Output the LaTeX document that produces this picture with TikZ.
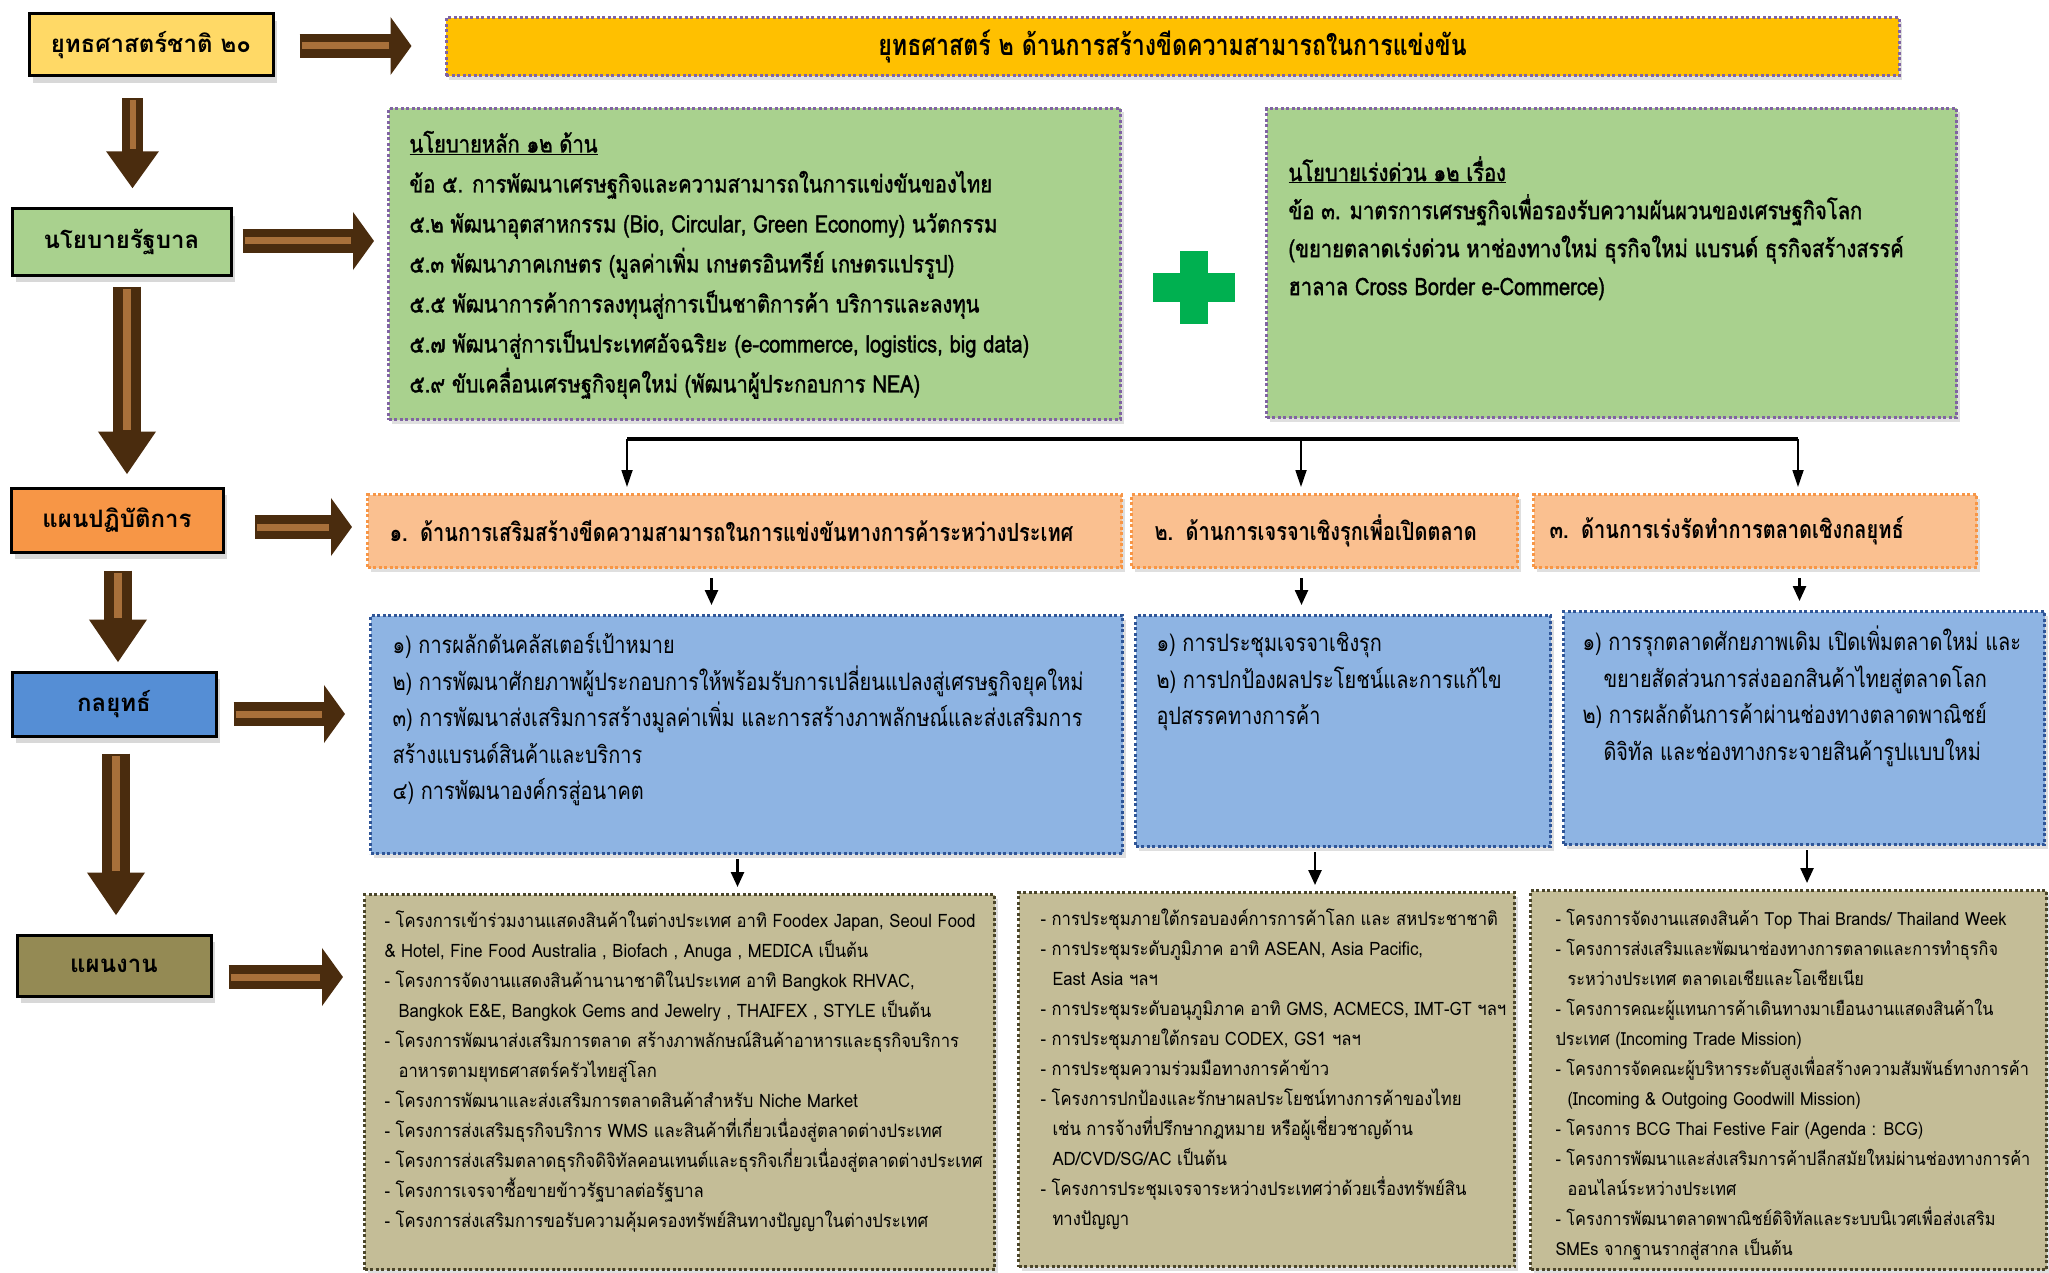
\documentclass[tikz,border=0pt]{standalone}
\usepackage{fontspec}
\newfontfamily\thaifont[Script=Thai]{Loma}
\newfontfamily\thainarrow[Script=Thai,FakeStretch=0.8]{Loma}
\newfontfamily\thaimed[Script=Thai,FakeStretch=0.84,FakeBold=1.5]{Loma}
\newfontfamily\thaiblue[Script=Thai,FakeStretch=0.83]{Loma}
\newfontfamily\thaithin[Script=Thai,FakeStretch=0.9]{Loma}
\usetikzlibrary{arrows.meta,shadows,calc,positioning}

\definecolor{yel}{HTML}{FFD966}
\definecolor{gold}{HTML}{FFC000}
\definecolor{grn}{HTML}{A9D18E}
\definecolor{org}{HTML}{F79646}
\definecolor{orgL}{HTML}{FAC090}
\definecolor{blu}{HTML}{558ED5}
\definecolor{bluL}{HTML}{8EB4E3}
\definecolor{bluD}{HTML}{2F5597}
\definecolor{olv}{HTML}{948A54}
\definecolor{olvL}{HTML}{C4BD97}
\definecolor{olvD}{HTML}{4A452A}
\definecolor{purp}{HTML}{8064A2}
\definecolor{plusgrn}{HTML}{00B050}
\definecolor{brD}{RGB}{74,44,14}
\definecolor{brL}{RGB}{168,112,58}

% top aligned text inside a box: height, width, left pad, top gap, text
\newcommand{\boxtext}[5]{\parbox[t][#1][t]{#2}{\leftskip=#3\relax\vspace*{#4}\strut#5}}

\begin{document}
\begin{tikzpicture}
  [x=1pt, y=-1pt,
   lbl/.style={draw=black, line width=3pt, inner sep=0pt,
     font=\thaifont\bfseries\fontsize{24pt}{28pt}\selectfont,
     drop shadow={shadow xshift=4pt, shadow yshift=-7pt, opacity=0.3}},
   dashbox/.style={line width=3pt, dash pattern=on 3pt off 2.5pt, inner sep=0pt,
     drop shadow={shadow xshift=3pt, shadow yshift=-4pt, opacity=0.25}},
   grnbox/.style={dashbox, draw=purp, fill=grn, anchor=north west,
     font=\thaimed\fontsize{24pt}{40pt}\selectfont},
   orgbox/.style={dashbox, draw=org, fill=orgL, anchor=north west, minimum height=73pt,
     align=left, font=\thainarrow\bfseries\fontsize{25pt}{28pt}\selectfont},
   blubox/.style={dashbox, draw=bluD, fill=bluL, anchor=north west,
     font=\thaiblue\fontsize{24pt}{36.5pt}\selectfont},
   olvbox/.style={dashbox, draw=olvD, fill=olvL, anchor=north west,
     font=\thaithin\fontsize{18.5pt}{30pt}\selectfont},
   harrow/.style={draw=brD, line width=24pt, -{Triangle[length=21pt,width=57pt]},
     postaction={draw=brL, line width=7pt, arrows=-, shorten >=23pt, shorten <=2pt}},
   varrow/.style={draw=brD, line width=21pt, -{Triangle[length=37pt,width=50pt]},
     postaction={draw=brL, line width=6pt, arrows=-, shorten >=39pt, shorten <=2pt}},
   varrowL/.style={draw=brD, line width=28pt, -{Triangle[length=43pt,width=55pt]},
     postaction={draw=brL, line width=8pt, arrows=-, shorten >=45pt, shorten <=2pt}},
   thinarrow/.style={draw=black, line width=1.8pt, -{Triangle[length=17pt,width=11pt]}},
   thickarrow/.style={draw=black, line width=2.5pt, -{Triangle[length=15pt,width=13pt]}}]

  \useasboundingbox (0,0) rectangle (2049,1273);
  \fill[white] (0,0) rectangle (2049,1273);

  % left column
  \node[lbl, fill=yel, minimum width=244pt, minimum height=62pt] (s20) at (151,45) {ยุทธศาสตร์ชาติ ๒๐};
  \node[lbl, fill=grn, minimum width=219pt, minimum height=66pt] (gov) at (121.5,242) {นโยบายรัฐบาล};
  \node[lbl, fill=org, minimum width=212pt, minimum height=64pt] (ops) at (117,520) {แผนปฏิบัติการ};
  \node[lbl, fill=blu, minimum width=204pt, minimum height=64pt] (strat) at (114,704) {กลยุทธ์};
  \node[lbl, fill=olv, minimum width=194pt, minimum height=61pt] (plan) at (114,965.5) {แผนงาน};

  % banner
  \node[dashbox, draw=purp, fill=gold, minimum width=1453pt, minimum height=58pt,
    font=\thainarrow\bfseries\fontsize{29pt}{32pt}\selectfont] (ban) at (1172.5,47)
    {ยุทธศาสตร์ ๒ ด้านการสร้างขีดความสามารถในการแข่งขัน};

  % policy boxes
  \node[grnbox] (pol) at (387,107) {\boxtext{311pt}{732pt}{21pt}{16pt}{%
    \underline{นโยบายหลัก ๑๒ ด้าน}\\
    ข้อ ๕. การพัฒนาเศรษฐกิจและความสามารถในการแข่งขันของไทย\\
    ๕.๒ พัฒนาอุตสาหกรรม (Bio, Circular, Green Economy) นวัตกรรม\\
    ๕.๓ พัฒนาภาคเกษตร (มูลค่าเพิ่ม เกษตรอินทรีย์ เกษตรแปรรูป)\\
    ๕.๕ พัฒนาการค้าการลงทุนสู่การเป็นชาติการค้า บริการและลงทุน\\
    ๕.๗ พัฒนาสู่การเป็นประเทศอัจฉริยะ (e-commerce, logistics, big data)\\
    ๕.๙ ขับเคลื่อนเศรษฐกิจยุคใหม่ (พัฒนาผู้ประกอบการ NEA)}};
  \node[grnbox, font=\thaimed\fontsize{24pt}{38pt}\selectfont] (urg) at (1265,107) {\boxtext{309pt}{690pt}{22pt}{46pt}{%
    \underline{นโยบายเร่งด่วน ๑๒ เรื่อง}\\
    ข้อ ๓. มาตรการเศรษฐกิจเพื่อรองรับความผันผวนของเศรษฐกิจโลก\\
    (ขยายตลาดเร่งด่วน หาช่องทางใหม่ ธุรกิจใหม่ แบรนด์ ธุรกิจสร้างสรรค์\\
    ฮาลาล Cross Border e-Commerce)}};
  \fill[plusgrn] (1153,273) rectangle (1235,302);
  \fill[plusgrn] (1180,251) rectangle (1208,324);

  % action plan boxes
  \node[orgbox, minimum width=754pt, text width=710pt, inner xsep=22pt] (or1) at (366,493)
    {๑. ด้านการเสริมสร้างขีดความสามารถในการแข่งขันทางการค้าระหว่างประเทศ};
  \node[orgbox, minimum width=386pt, text width=340pt, inner xsep=23pt] (or2) at (1130,493)
    {๒. ด้านการเจรจาเชิงรุกเพื่อเปิดตลาด};
  \node[orgbox, minimum width=443pt, text width=411pt, inner xsep=16pt] (or3) at (1532,493)
    {๓. ด้านการเร่งรัดทำการตลาดเชิงกลยุทธ์};

  % strategy boxes
  \node[blubox] (bl1) at (369,614) {\boxtext{238pt}{752pt}{22pt}{12.5pt}{%
    ๑) การผลักดันคลัสเตอร์เป้าหมาย\\
    ๒) การพัฒนาศักยภาพผู้ประกอบการให้พร้อมรับการเปลี่ยนแปลงสู่เศรษฐกิจยุคใหม่\\
    ๓) การพัฒนาส่งเสริมการสร้างมูลค่าเพิ่ม และการสร้างภาพลักษณ์และส่งเสริมการ\\
    สร้างแบรนด์สินค้าและบริการ\\
    ๔) การพัฒนาองค์กรสู่อนาคต}};
  \node[blubox] (bl2) at (1134,614) {\boxtext{231pt}{415pt}{21pt}{10.5pt}{%
    ๑) การประชุมเจรจาเชิงรุก\\
    ๒) การปกป้องผลประโยชน์และการแก้ไข\\
    อุปสรรคทางการค้า}};
  \node[blubox] (bl3) at (1562,610) {\boxtext{233pt}{481pt}{19pt}{13.5pt}{%
    ๑) การรุกตลาดศักยภาพเดิม เปิดเพิ่มตลาดใหม่ และ\\
    \hspace*{21pt}ขยายสัดส่วนการส่งออกสินค้าไทยสู่ตลาดโลก\\
    ๒) การผลักดันการค้าผ่านช่องทางตลาดพาณิชย์\\
    \hspace*{21pt}ดิจิทัล และช่องทางกระจายสินค้ารูปแบบใหม่}};

  % work plan boxes
  \node[olvbox] (ol1) at (363,893) {\boxtext{375pt}{630pt}{20pt}{12pt}{%
    - โครงการเข้าร่วมงานแสดงสินค้าในต่างประเทศ อาทิ Foodex Japan, Seoul Food\\
    \& Hotel, Fine Food Australia , Biofach , Anuga , MEDICA เป็นต้น\\
    - โครงการจัดงานแสดงสินค้านานาชาติในประเทศ อาทิ Bangkok RHVAC,\\
    \hspace*{14pt}Bangkok E\&E, Bangkok Gems and Jewelry , THAIFEX , STYLE เป็นต้น\\
    - โครงการพัฒนาส่งเสริมการตลาด สร้างภาพลักษณ์สินค้าอาหารและธุรกิจบริการ\\
    \hspace*{14pt}อาหารตามยุทธศาสตร์ครัวไทยสู่โลก\\
    - โครงการพัฒนาและส่งเสริมการตลาดสินค้าสำหรับ Niche Market\\
    - โครงการส่งเสริมธุรกิจบริการ WMS และสินค้าที่เกี่ยวเนื่องสู่ตลาดต่างประเทศ\\
    - โครงการส่งเสริมตลาดธุรกิจดิจิทัลคอนเทนต์และธุรกิจเกี่ยวเนื่องสู่ตลาดต่างประเทศ\\
    - โครงการเจรจาซื้อขายข้าวรัฐบาลต่อรัฐบาล\\
    - โครงการส่งเสริมการขอรับความคุ้มครองทรัพย์สินทางปัญญาในต่างประเทศ}};
  \node[olvbox] (ol2) at (1017,891) {\boxtext{374pt}{496pt}{22pt}{12pt}{%
    - การประชุมภายใต้กรอบองค์การการค้าโลก และ สหประชาชาติ\\
    - การประชุมระดับภูมิภาค อาทิ ASEAN, Asia Pacific,\\
    \hspace*{12pt}East Asia ฯลฯ\\
    - การประชุมระดับอนุภูมิภาค อาทิ GMS, ACMECS, IMT-GT ฯลฯ\\
    - การประชุมภายใต้กรอบ CODEX, GS1 ฯลฯ\\
    - การประชุมความร่วมมือทางการค้าข้าว\\
    - โครงการปกป้องและรักษาผลประโยชน์ทางการค้าของไทย\\
    \hspace*{12pt}เช่น การจ้างที่ปรึกษากฎหมาย หรือผู้เชี่ยวชาญด้าน\\
    \hspace*{12pt}AD/CVD/SG/AC เป็นต้น\\
    - โครงการประชุมเจรจาระหว่างประเทศว่าด้วยเรื่องทรัพย์สิน\\
    \hspace*{12pt}ทางปัญญา}};
  \node[olvbox, font=\thaithin\fontsize{18.1pt}{30pt}\selectfont] (ol3) at (1529,889) {\boxtext{379pt}{516pt}{25pt}{14pt}{%
    - โครงการจัดงานแสดงสินค้า Top Thai Brands/ Thailand Week\\
    - โครงการส่งเสริมและพัฒนาช่องทางการตลาดและการทำธุรกิจ\\
    \hspace*{12pt}ระหว่างประเทศ ตลาดเอเชียและโอเชียเนีย\\
    - โครงการคณะผู้แทนการค้าเดินทางมาเยือนงานแสดงสินค้าใน\\
    ประเทศ (Incoming Trade Mission)\\
    - โครงการจัดคณะผู้บริหารระดับสูงเพื่อสร้างความสัมพันธ์ทางการค้า\\
    \hspace*{12pt}(Incoming \& Outgoing Goodwill Mission)\\
    - โครงการ BCG Thai Festive Fair (Agenda : BCG)\\
    - โครงการพัฒนาและส่งเสริมการค้าปลีกสมัยใหม่ผ่านช่องทางการค้า\\
    \hspace*{12pt}ออนไลน์ระหว่างประเทศ\\
    - โครงการพัฒนาตลาดพาณิชย์ดิจิทัลและระบบนิเวศเพื่อส่งเสริม\\
    SMEs จากฐานรากสู่สากล เป็นต้น}};

  % brown block arrows
  \draw[harrow] ($(s20.east)+(25,1)$) -- ($(s20.east -| ban.west)+(-33,1)$);
  \draw[harrow] ($(gov.east)+(10,-1)$) -- ($(gov.east -| pol.west)+(-13,-1)$);
  \draw[harrow] ($(ops.east)+(30,7)$) -- ($(ops.east -| or1.west)+(-14,7)$);
  \draw[harrow] ($(strat.east)+(16,10)$) -- ($(strat.east -| bl1.west)+(-24,10)$);
  \draw[harrow] ($(plan.east)+(16,11.5)$) -- ($(plan.east -| ol1.west)+(-20,11.5)$);
  \draw[varrow] ($(s20.south -| gov.north)+(11,21)$) -- ($(gov.north)+(11,-19)$);
  \draw[varrowL] ($(gov.south)+(5.5,10)$) -- ($(gov.south |- ops.north)+(5.5,-12)$);
  \draw[varrowL] ($(ops.south)+(1,17)$) -- ($(ops.south |- strat.north)+(1,-8)$);
  \draw[varrowL] ($(strat.south)+(2,16)$) -- ($(strat.south |- plan.north)+(2,-18)$);

  % bracket from policies to action plans
  \coordinate (barL) at (627,439);
  \coordinate (barM) at (1301,439);
  \coordinate (barR) at (1798,439);
  \draw[line width=4pt] (barL) -- (barR);
  \foreach \c/\n in {barL/or1, barM/or2, barR/or3}
    \draw[thinarrow, shorten >=6pt] (\c) -- (\c |- \n.north);

  % small arrows between rows
  \foreach \a/\b/\dx in {or1/bl1/-33, or2/bl2/-23, or3/bl3/44.5}
    \draw[thickarrow] ($(\a.south)+(\dx,9)$) -- ($(\a.south |- \b.north)+(\dx,-9)$);
  \foreach \a/\b/\dx in {bl1/ol1/-9, bl2/ol2/-28, bl3/ol3/3}
    \draw[thickarrow] ($(\a.south)+(\dx,4)$) -- ($(\a.south |- \b.north)+(\dx,-6)$);
\end{tikzpicture}
\end{document}
